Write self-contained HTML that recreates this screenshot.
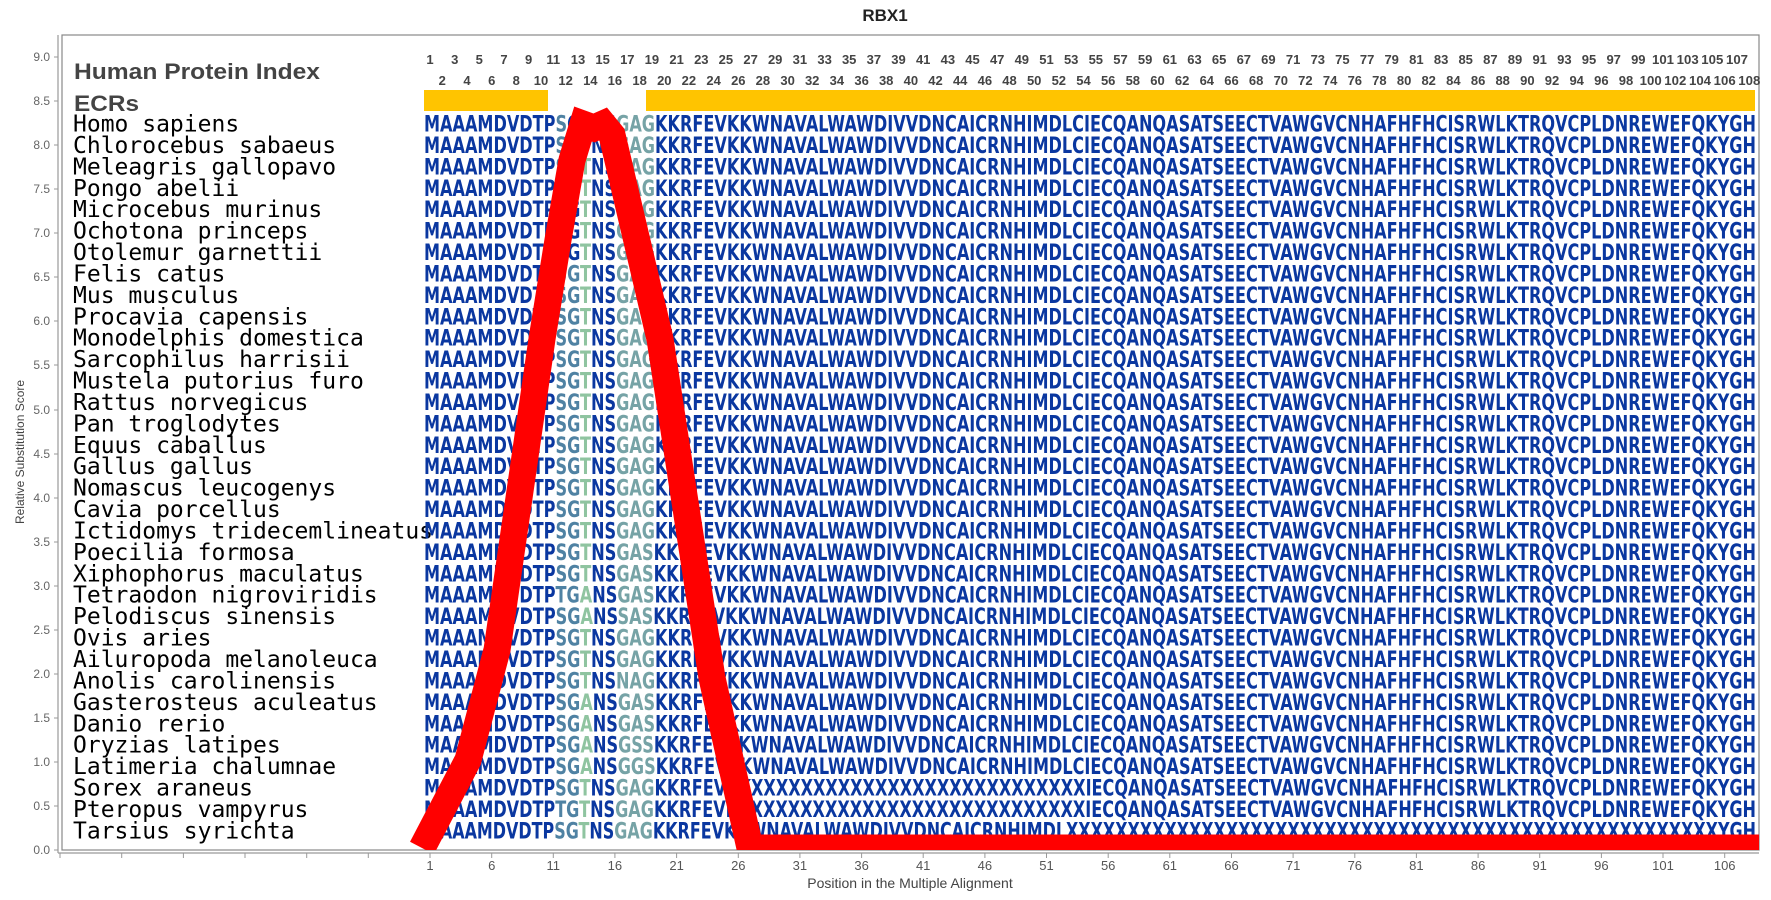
<!DOCTYPE html>
<html><head><meta charset="utf-8"><style>
html,body{margin:0;padding:0;background:#fff;}
svg{display:block;}
.yt{font:12px "Liberation Sans",sans-serif;fill:#666;text-anchor:end;}
.xt{font:13px "Liberation Sans",sans-serif;fill:#555;text-anchor:middle;}
.n{font:bold 13px "Liberation Sans",sans-serif;fill:#444;text-anchor:middle;}
.nm{font:23px "DejaVu Sans Mono",monospace;fill:#000;}
.s{font:bold 22px "DejaVu Sans",sans-serif;fill:#0a37a0;}
.a{fill:#4f82a3}.b{fill:#8fc4a0}.c{fill:#76a3a6}
</style></head><body>
<svg width="1771" height="900" viewBox="0 0 1771 900" xmlns="http://www.w3.org/2000/svg">
<defs><clipPath id="pc"><rect x="62" y="35" width="1697" height="815"/></clipPath></defs>
<text x="885" y="21" style="font:bold 17px 'Liberation Sans',sans-serif;fill:#222" text-anchor="middle">RBX1</text>
<rect x="62" y="35" width="1697" height="815" fill="#fff" stroke="#888" stroke-width="1.2"/>
<line x1="58" y1="35" x2="58" y2="853" stroke="#999" stroke-width="1.2"/>
<line x1="58" y1="853" x2="1759" y2="853" stroke="#999" stroke-width="1.2"/>
<g stroke="#999">
<line x1="54" y1="57" x2="58" y2="57"/><line x1="54" y1="101" x2="58" y2="101"/><line x1="54" y1="145" x2="58" y2="145"/><line x1="54" y1="189" x2="58" y2="189"/><line x1="54" y1="233" x2="58" y2="233"/><line x1="54" y1="277" x2="58" y2="277"/><line x1="54" y1="321" x2="58" y2="321"/><line x1="54" y1="365" x2="58" y2="365"/><line x1="54" y1="410" x2="58" y2="410"/><line x1="54" y1="454" x2="58" y2="454"/><line x1="54" y1="498" x2="58" y2="498"/><line x1="54" y1="542" x2="58" y2="542"/><line x1="54" y1="586" x2="58" y2="586"/><line x1="54" y1="630" x2="58" y2="630"/><line x1="54" y1="674" x2="58" y2="674"/><line x1="54" y1="718" x2="58" y2="718"/><line x1="54" y1="762" x2="58" y2="762"/><line x1="54" y1="806" x2="58" y2="806"/><line x1="54" y1="850" x2="58" y2="850"/>
</g>
<g class="yt">
<text x="50" y="61">9.0</text><text x="50" y="105">8.5</text><text x="50" y="149">8.0</text><text x="50" y="193">7.5</text><text x="50" y="237">7.0</text><text x="50" y="281">6.5</text><text x="50" y="325">6.0</text><text x="50" y="369">5.5</text><text x="50" y="414">5.0</text><text x="50" y="458">4.5</text><text x="50" y="502">4.0</text><text x="50" y="546">3.5</text><text x="50" y="590">3.0</text><text x="50" y="634">2.5</text><text x="50" y="678">2.0</text><text x="50" y="722">1.5</text><text x="50" y="766">1.0</text><text x="50" y="810">0.5</text><text x="50" y="854">0.0</text>
</g>
<text transform="translate(24,452) rotate(-90)" style="font:12px 'Liberation Sans',sans-serif;fill:#444" text-anchor="middle">Relative Substitution Score</text>
<g stroke="#999">
<line x1="60" y1="853" x2="60" y2="858"/><line x1="121.7" y1="853" x2="121.7" y2="858"/><line x1="183.4" y1="853" x2="183.4" y2="858"/><line x1="245" y1="853" x2="245" y2="858"/><line x1="306.7" y1="853" x2="306.7" y2="858"/><line x1="368.3" y1="853" x2="368.3" y2="858"/>
<line x1="430" y1="853" x2="430" y2="858"/><line x1="491.7" y1="853" x2="491.7" y2="858"/><line x1="553.3" y1="853" x2="553.3" y2="858"/><line x1="614.9" y1="853" x2="614.9" y2="858"/><line x1="676.6" y1="853" x2="676.6" y2="858"/><line x1="738.3" y1="853" x2="738.3" y2="858"/><line x1="799.9" y1="853" x2="799.9" y2="858"/><line x1="861.6" y1="853" x2="861.6" y2="858"/><line x1="923.2" y1="853" x2="923.2" y2="858"/><line x1="984.9" y1="853" x2="984.9" y2="858"/><line x1="1046.5" y1="853" x2="1046.5" y2="858"/><line x1="1108.2" y1="853" x2="1108.2" y2="858"/><line x1="1169.8" y1="853" x2="1169.8" y2="858"/><line x1="1231.5" y1="853" x2="1231.5" y2="858"/><line x1="1293.1" y1="853" x2="1293.1" y2="858"/><line x1="1354.8" y1="853" x2="1354.8" y2="858"/><line x1="1416.4" y1="853" x2="1416.4" y2="858"/><line x1="1478.1" y1="853" x2="1478.1" y2="858"/><line x1="1539.7" y1="853" x2="1539.7" y2="858"/><line x1="1601.4" y1="853" x2="1601.4" y2="858"/><line x1="1663" y1="853" x2="1663" y2="858"/><line x1="1724.7" y1="853" x2="1724.7" y2="858"/>
</g>
<g class="xt">
<text x="430" y="870">1</text><text x="491.7" y="870">6</text><text x="553.3" y="870">11</text><text x="614.9" y="870">16</text><text x="676.6" y="870">21</text><text x="738.3" y="870">26</text><text x="799.9" y="870">31</text><text x="861.6" y="870">36</text><text x="923.2" y="870">41</text><text x="984.9" y="870">46</text><text x="1046.5" y="870">51</text><text x="1108.2" y="870">56</text><text x="1169.8" y="870">61</text><text x="1231.5" y="870">66</text><text x="1293.1" y="870">71</text><text x="1354.8" y="870">76</text><text x="1416.4" y="870">81</text><text x="1478.1" y="870">86</text><text x="1539.7" y="870">91</text><text x="1601.4" y="870">96</text><text x="1663" y="870">101</text><text x="1724.7" y="870">106</text>
</g>
<text x="910" y="888" style="font:14px 'Liberation Sans',sans-serif;fill:#444" text-anchor="middle">Position in the Multiple Alignment</text>

<text x="74" y="79" textLength="246" lengthAdjust="spacingAndGlyphs" style="font:bold 22px 'Liberation Sans',sans-serif;fill:#444">Human Protein Index</text>
<text x="74" y="111" textLength="65" lengthAdjust="spacingAndGlyphs" style="font:bold 22px 'Liberation Sans',sans-serif;fill:#444">ECRs</text>

<g class="n">
<text x="430" y="64">1</text><text x="454.7" y="64">3</text><text x="479.3" y="64">5</text><text x="504" y="64">7</text><text x="528.6" y="64">9</text><text x="553.3" y="64">11</text><text x="578" y="64">13</text><text x="602.6" y="64">15</text><text x="627.3" y="64">17</text><text x="651.9" y="64">19</text><text x="676.6" y="64">21</text><text x="701.3" y="64">23</text><text x="725.9" y="64">25</text><text x="750.6" y="64">27</text><text x="775.2" y="64">29</text><text x="799.9" y="64">31</text><text x="824.6" y="64">33</text><text x="849.2" y="64">35</text><text x="873.9" y="64">37</text><text x="898.5" y="64">39</text><text x="923.2" y="64">41</text><text x="947.9" y="64">43</text><text x="972.5" y="64">45</text><text x="997.2" y="64">47</text><text x="1021.8" y="64">49</text><text x="1046.5" y="64">51</text><text x="1071.2" y="64">53</text><text x="1095.8" y="64">55</text><text x="1120.5" y="64">57</text><text x="1145.1" y="64">59</text><text x="1169.8" y="64">61</text><text x="1194.5" y="64">63</text><text x="1219.1" y="64">65</text><text x="1243.8" y="64">67</text><text x="1268.4" y="64">69</text><text x="1293.1" y="64">71</text><text x="1317.8" y="64">73</text><text x="1342.4" y="64">75</text><text x="1367.1" y="64">77</text><text x="1391.7" y="64">79</text><text x="1416.4" y="64">81</text><text x="1441.1" y="64">83</text><text x="1465.7" y="64">85</text><text x="1490.4" y="64">87</text><text x="1515" y="64">89</text><text x="1539.7" y="64">91</text><text x="1564.4" y="64">93</text><text x="1589" y="64">95</text><text x="1613.7" y="64">97</text><text x="1638.3" y="64">99</text><text x="1663" y="64" textLength="22" lengthAdjust="spacingAndGlyphs">101</text><text x="1687.7" y="64" textLength="22" lengthAdjust="spacingAndGlyphs">103</text><text x="1712.3" y="64" textLength="22" lengthAdjust="spacingAndGlyphs">105</text><text x="1737" y="64" textLength="22" lengthAdjust="spacingAndGlyphs">107</text>
<text x="442.3" y="85">2</text><text x="467" y="85">4</text><text x="491.7" y="85">6</text><text x="516.3" y="85">8</text><text x="541" y="85">10</text><text x="565.6" y="85">12</text><text x="590.3" y="85">14</text><text x="614.9" y="85">16</text><text x="639.6" y="85">18</text><text x="664.3" y="85">20</text><text x="688.9" y="85">22</text><text x="713.6" y="85">24</text><text x="738.3" y="85">26</text><text x="762.9" y="85">28</text><text x="787.6" y="85">30</text><text x="812.2" y="85">32</text><text x="836.9" y="85">34</text><text x="861.6" y="85">36</text><text x="886.2" y="85">38</text><text x="910.9" y="85">40</text><text x="935.5" y="85">42</text><text x="960.2" y="85">44</text><text x="984.9" y="85">46</text><text x="1009.5" y="85">48</text><text x="1034.2" y="85">50</text><text x="1058.8" y="85">52</text><text x="1083.5" y="85">54</text><text x="1108.2" y="85">56</text><text x="1132.8" y="85">58</text><text x="1157.5" y="85">60</text><text x="1182.1" y="85">62</text><text x="1206.8" y="85">64</text><text x="1231.5" y="85">66</text><text x="1256.1" y="85">68</text><text x="1280.8" y="85">70</text><text x="1305.4" y="85">72</text><text x="1330.1" y="85">74</text><text x="1354.8" y="85">76</text><text x="1379.4" y="85">78</text><text x="1404.1" y="85">80</text><text x="1428.7" y="85">82</text><text x="1453.4" y="85">84</text><text x="1478.1" y="85">86</text><text x="1502.7" y="85">88</text><text x="1527.4" y="85">90</text><text x="1552" y="85">92</text><text x="1576.7" y="85">94</text><text x="1601.4" y="85">96</text><text x="1626" y="85">98</text><text x="1650.7" y="85" textLength="22" lengthAdjust="spacingAndGlyphs">100</text><text x="1675.3" y="85" textLength="22" lengthAdjust="spacingAndGlyphs">102</text><text x="1700" y="85" textLength="22" lengthAdjust="spacingAndGlyphs">104</text><text x="1724.7" y="85" textLength="22" lengthAdjust="spacingAndGlyphs">106</text><text x="1749.3" y="85" textLength="22" lengthAdjust="spacingAndGlyphs">108</text>
</g>

<rect x="424" y="90" width="124" height="21" fill="#ffc400"/>
<rect x="646" y="90" width="1109" height="21" fill="#ffc400"/>

<g class="nm">
<text x="73" y="131.5">Homo sapiens</text>
<text x="73" y="152.9">Chlorocebus sabaeus</text>
<text x="73" y="174.3">Meleagris gallopavo</text>
<text x="73" y="195.8">Pongo abelii</text>
<text x="73" y="217.2">Microcebus murinus</text>
<text x="73" y="238.6">Ochotona princeps</text>
<text x="73" y="260">Otolemur garnettii</text>
<text x="73" y="281.4">Felis catus</text>
<text x="73" y="302.9">Mus musculus</text>
<text x="73" y="324.3">Procavia capensis</text>
<text x="73" y="345.7">Monodelphis domestica</text>
<text x="73" y="367.1">Sarcophilus harrisii</text>
<text x="73" y="388.5">Mustela putorius furo</text>
<text x="73" y="410">Rattus norvegicus</text>
<text x="73" y="431.4">Pan troglodytes</text>
<text x="73" y="452.8">Equus caballus</text>
<text x="73" y="474.2">Gallus gallus</text>
<text x="73" y="495.6">Nomascus leucogenys</text>
<text x="73" y="517.1">Cavia porcellus</text>
<text x="73" y="538.5">Ictidomys tridecemlineatus</text>
<text x="73" y="559.9">Poecilia formosa</text>
<text x="73" y="581.3">Xiphophorus maculatus</text>
<text x="73" y="602.7">Tetraodon nigroviridis</text>
<text x="73" y="624.2">Pelodiscus sinensis</text>
<text x="73" y="645.6">Ovis aries</text>
<text x="73" y="667">Ailuropoda melanoleuca</text>
<text x="73" y="688.4">Anolis carolinensis</text>
<text x="73" y="709.8">Gasterosteus aculeatus</text>
<text x="73" y="731.3">Danio rerio</text>
<text x="73" y="752.7">Oryzias latipes</text>
<text x="73" y="774.1">Latimeria chalumnae</text>
<text x="73" y="795.5">Sorex araneus</text>
<text x="73" y="816.9">Pteropus vampyrus</text>
<text x="73" y="838.4">Tarsius syrichta</text>
</g>

<g class="s">
<text x="424" y="131.5" textLength="1332" lengthAdjust="spacingAndGlyphs">MAAAMDVDTP<tspan class="a">S</tspan>G<tspan class="b">T</tspan>NS<tspan class="c">GAG</tspan>KKRFEVKKWNAVALWAWDIVVDNCAICRNHIMDLCIECQANQASATSEECTVAWGVCNHAFHFHCISRWLKTRQVCPLDNREWEFQKYGH</text>
<text x="424" y="152.9" textLength="1332" lengthAdjust="spacingAndGlyphs">MAAAMDVDTP<tspan class="a">S</tspan>G<tspan class="b">T</tspan>NS<tspan class="c">GAG</tspan>KKRFEVKKWNAVALWAWDIVVDNCAICRNHIMDLCIECQANQASATSEECTVAWGVCNHAFHFHCISRWLKTRQVCPLDNREWEFQKYGH</text>
<text x="424" y="174.3" textLength="1332" lengthAdjust="spacingAndGlyphs">MAAAMDVDTP<tspan class="a">S</tspan>G<tspan class="b">T</tspan>NS<tspan class="c">GAG</tspan>KKRFEVKKWNAVALWAWDIVVDNCAICRNHIMDLCIECQANQASATSEECTVAWGVCNHAFHFHCISRWLKTRQVCPLDNREWEFQKYGH</text>
<text x="424" y="195.8" textLength="1332" lengthAdjust="spacingAndGlyphs">MAAAMDVDTP<tspan class="a">S</tspan>G<tspan class="b">T</tspan>NS<tspan class="c">GAG</tspan>KKRFEVKKWNAVALWAWDIVVDNCAICRNHIMDLCIECQANQASATSEECTVAWGVCNHAFHFHCISRWLKTRQVCPLDNREWEFQKYGH</text>
<text x="424" y="217.2" textLength="1332" lengthAdjust="spacingAndGlyphs">MAAAMDVDTP<tspan class="a">S</tspan>G<tspan class="b">T</tspan>NS<tspan class="c">GAG</tspan>KKRFEVKKWNAVALWAWDIVVDNCAICRNHIMDLCIECQANQASATSEECTVAWGVCNHAFHFHCISRWLKTRQVCPLDNREWEFQKYGH</text>
<text x="424" y="238.6" textLength="1332" lengthAdjust="spacingAndGlyphs">MAAAMDVDTP<tspan class="a">S</tspan>G<tspan class="b">T</tspan>NS<tspan class="c">GAG</tspan>KKRFEVKKWNAVALWAWDIVVDNCAICRNHIMDLCIECQANQASATSEECTVAWGVCNHAFHFHCISRWLKTRQVCPLDNREWEFQKYGH</text>
<text x="424" y="260" textLength="1332" lengthAdjust="spacingAndGlyphs">MAAAMDVDTP<tspan class="a">S</tspan>G<tspan class="b">T</tspan>NS<tspan class="c">GAG</tspan>KKRFEVKKWNAVALWAWDIVVDNCAICRNHIMDLCIECQANQASATSEECTVAWGVCNHAFHFHCISRWLKTRQVCPLDNREWEFQKYGH</text>
<text x="424" y="281.4" textLength="1332" lengthAdjust="spacingAndGlyphs">MAAAMDVDTP<tspan class="a">SG</tspan><tspan class="b">T</tspan>NS<tspan class="c">GAG</tspan>KKRFEVKKWNAVALWAWDIVVDNCAICRNHIMDLCIECQANQASATSEECTVAWGVCNHAFHFHCISRWLKTRQVCPLDNREWEFQKYGH</text>
<text x="424" y="302.9" textLength="1332" lengthAdjust="spacingAndGlyphs">MAAAMDVDTP<tspan class="a">SG</tspan><tspan class="b">T</tspan>NS<tspan class="c">GAG</tspan>KKRFEVKKWNAVALWAWDIVVDNCAICRNHIMDLCIECQANQASATSEECTVAWGVCNHAFHFHCISRWLKTRQVCPLDNREWEFQKYGH</text>
<text x="424" y="324.3" textLength="1332" lengthAdjust="spacingAndGlyphs">MAAAMDVDTP<tspan class="a">SG</tspan><tspan class="b">T</tspan>NS<tspan class="c">GAG</tspan>KKRFEVKKWNAVALWAWDIVVDNCAICRNHIMDLCIECQANQASATSEECTVAWGVCNHAFHFHCISRWLKTRQVCPLDNREWEFQKYGH</text>
<text x="424" y="345.7" textLength="1332" lengthAdjust="spacingAndGlyphs">MAAAMDVDTP<tspan class="a">SG</tspan><tspan class="b">T</tspan>NS<tspan class="c">GAG</tspan>KKRFEVKKWNAVALWAWDIVVDNCAICRNHIMDLCIECQANQASATSEECTVAWGVCNHAFHFHCISRWLKTRQVCPLDNREWEFQKYGH</text>
<text x="424" y="367.1" textLength="1332" lengthAdjust="spacingAndGlyphs">MAAAMDVDTP<tspan class="a">SG</tspan><tspan class="b">T</tspan>NS<tspan class="c">GAG</tspan>KKRFEVKKWNAVALWAWDIVVDNCAICRNHIMDLCIECQANQASATSEECTVAWGVCNHAFHFHCISRWLKTRQVCPLDNREWEFQKYGH</text>
<text x="424" y="388.5" textLength="1332" lengthAdjust="spacingAndGlyphs">MAAAMDVDTP<tspan class="a">SG</tspan><tspan class="b">T</tspan>NS<tspan class="c">GAG</tspan>KKRFEVKKWNAVALWAWDIVVDNCAICRNHIMDLCIECQANQASATSEECTVAWGVCNHAFHFHCISRWLKTRQVCPLDNREWEFQKYGH</text>
<text x="424" y="410" textLength="1332" lengthAdjust="spacingAndGlyphs">MAAAMDVDTP<tspan class="a">SG</tspan><tspan class="b">T</tspan>NS<tspan class="c">GAG</tspan>KKRFEVKKWNAVALWAWDIVVDNCAICRNHIMDLCIECQANQASATSEECTVAWGVCNHAFHFHCISRWLKTRQVCPLDNREWEFQKYGH</text>
<text x="424" y="431.4" textLength="1332" lengthAdjust="spacingAndGlyphs">MAAAMDVDTP<tspan class="a">SG</tspan><tspan class="b">T</tspan>NS<tspan class="c">GAG</tspan>KKRFEVKKWNAVALWAWDIVVDNCAICRNHIMDLCIECQANQASATSEECTVAWGVCNHAFHFHCISRWLKTRQVCPLDNREWEFQKYGH</text>
<text x="424" y="452.8" textLength="1332" lengthAdjust="spacingAndGlyphs">MAAAMDVDTP<tspan class="a">SG</tspan><tspan class="b">T</tspan>NS<tspan class="c">GAG</tspan>KKRFEVKKWNAVALWAWDIVVDNCAICRNHIMDLCIECQANQASATSEECTVAWGVCNHAFHFHCISRWLKTRQVCPLDNREWEFQKYGH</text>
<text x="424" y="474.2" textLength="1332" lengthAdjust="spacingAndGlyphs">MAAAMDVDTP<tspan class="a">SG</tspan><tspan class="b">T</tspan>NS<tspan class="c">GAG</tspan>KKRFEVKKWNAVALWAWDIVVDNCAICRNHIMDLCIECQANQASATSEECTVAWGVCNHAFHFHCISRWLKTRQVCPLDNREWEFQKYGH</text>
<text x="424" y="495.6" textLength="1332" lengthAdjust="spacingAndGlyphs">MAAAMDVDTP<tspan class="a">SG</tspan><tspan class="b">T</tspan>NS<tspan class="c">GAG</tspan>KKRFEVKKWNAVALWAWDIVVDNCAICRNHIMDLCIECQANQASATSEECTVAWGVCNHAFHFHCISRWLKTRQVCPLDNREWEFQKYGH</text>
<text x="424" y="517.1" textLength="1332" lengthAdjust="spacingAndGlyphs">MAAAMDVDTP<tspan class="a">SG</tspan><tspan class="b">T</tspan>NS<tspan class="c">GAG</tspan>KKRFEVKKWNAVALWAWDIVVDNCAICRNHIMDLCIECQANQASATSEECTVAWGVCNHAFHFHCISRWLKTRQVCPLDNREWEFQKYGH</text>
<text x="424" y="538.5" textLength="1332" lengthAdjust="spacingAndGlyphs">MAAAMDVDTP<tspan class="a">SG</tspan><tspan class="b">T</tspan>NS<tspan class="c">GAG</tspan>KKRFEVKKWNAVALWAWDIVVDNCAICRNHIMDLCIECQANQASATSEECTVAWGVCNHAFHFHCISRWLKTRQVCPLDNREWEFQKYGH</text>
<text x="424" y="559.9" textLength="1332" lengthAdjust="spacingAndGlyphs">MAAAMDVDTP<tspan class="a">SG</tspan><tspan class="b">T</tspan>NS<tspan class="c">GAS</tspan>KKRFEVKKWNAVALWAWDIVVDNCAICRNHIMDLCIECQANQASATSEECTVAWGVCNHAFHFHCISRWLKTRQVCPLDNREWEFQKYGH</text>
<text x="424" y="581.3" textLength="1332" lengthAdjust="spacingAndGlyphs">MAAAMDVDTP<tspan class="a">SG</tspan><tspan class="b">T</tspan>NS<tspan class="c">GAS</tspan>KKRFEVKKWNAVALWAWDIVVDNCAICRNHIMDLCIECQANQASATSEECTVAWGVCNHAFHFHCISRWLKTRQVCPLDNREWEFQKYGH</text>
<text x="424" y="602.7" textLength="1332" lengthAdjust="spacingAndGlyphs">MAAAMDVDTP<tspan class="a">TG</tspan><tspan class="b">A</tspan>NS<tspan class="c">GAS</tspan>KKRFEVKKWNAVALWAWDIVVDNCAICRNHIMDLCIECQANQASATSEECTVAWGVCNHAFHFHCISRWLKTRQVCPLDNREWEFQKYGH</text>
<text x="424" y="624.2" textLength="1332" lengthAdjust="spacingAndGlyphs">MAAAMDVDTP<tspan class="a">SG</tspan><tspan class="b">A</tspan>NS<tspan class="c">SAS</tspan>KKRFEVKKWNAVALWAWDIVVDNCAICRNHIMDLCIECQANQASATSEECTVAWGVCNHAFHFHCISRWLKTRQVCPLDNREWEFQKYGH</text>
<text x="424" y="645.6" textLength="1332" lengthAdjust="spacingAndGlyphs">MAAAMDVDTP<tspan class="a">SG</tspan><tspan class="b">T</tspan>NS<tspan class="c">GAG</tspan>KKRFEVKKWNAVALWAWDIVVDNCAICRNHIMDLCIECQANQASATSEECTVAWGVCNHAFHFHCISRWLKTRQVCPLDNREWEFQKYGH</text>
<text x="424" y="667" textLength="1332" lengthAdjust="spacingAndGlyphs">MAAAMDVDTP<tspan class="a">SG</tspan><tspan class="b">T</tspan>NS<tspan class="c">GAG</tspan>KKRFEVKKWNAVALWAWDIVVDNCAICRNHIMDLCIECQANQASATSEECTVAWGVCNHAFHFHCISRWLKTRQVCPLDNREWEFQKYGH</text>
<text x="424" y="688.4" textLength="1332" lengthAdjust="spacingAndGlyphs">MAAAMDVDTP<tspan class="a">SG</tspan><tspan class="b">T</tspan>NS<tspan class="c">NAG</tspan>KKRFEVKKWNAVALWAWDIVVDNCAICRNHIMDLCIECQANQASATSEECTVAWGVCNHAFHFHCISRWLKTRQVCPLDNREWEFQKYGH</text>
<text x="424" y="709.8" textLength="1332" lengthAdjust="spacingAndGlyphs">MAAAMDVDTP<tspan class="a">SG</tspan><tspan class="b">A</tspan>NS<tspan class="c">GAS</tspan>KKRFEVKKWNAVALWAWDIVVDNCAICRNHIMDLCIECQANQASATSEECTVAWGVCNHAFHFHCISRWLKTRQVCPLDNREWEFQKYGH</text>
<text x="424" y="731.3" textLength="1332" lengthAdjust="spacingAndGlyphs">MAAAMDVDTP<tspan class="a">SG</tspan><tspan class="b">A</tspan>NS<tspan class="c">GAS</tspan>KKRFEVKKWNAVALWAWDIVVDNCAICRNHIMDLCIECQANQASATSEECTVAWGVCNHAFHFHCISRWLKTRQVCPLDNREWEFQKYGH</text>
<text x="424" y="752.7" textLength="1332" lengthAdjust="spacingAndGlyphs">MAAAMDVDTP<tspan class="a">SG</tspan><tspan class="b">A</tspan>NS<tspan class="c">GSS</tspan>KKRFEVKKWNAVALWAWDIVVDNCAICRNHIMDLCIECQANQASATSEECTVAWGVCNHAFHFHCISRWLKTRQVCPLDNREWEFQKYGH</text>
<text x="424" y="774.1" textLength="1332" lengthAdjust="spacingAndGlyphs">MAAAMDVDTP<tspan class="a">SG</tspan><tspan class="b">A</tspan>NS<tspan class="c">GGS</tspan>KKRFEVKKWNAVALWAWDIVVDNCAICRNHIMDLCIECQANQASATSEECTVAWGVCNHAFHFHCISRWLKTRQVCPLDNREWEFQKYGH</text>
<text x="424" y="795.5" textLength="1332" lengthAdjust="spacingAndGlyphs">MAAAMDVDTP<tspan class="a">SG</tspan><tspan class="b">T</tspan>NS<tspan class="c">GAG</tspan>KKRFEVKKXXXXXXXXXXXXXXXXXXXXXXXXXXXIECQANQASATSEECTVAWGVCNHAFHFHCISRWLKTRQVCPLDNREWEFQKYGH</text>
<text x="424" y="816.9" textLength="1332" lengthAdjust="spacingAndGlyphs">MAAAMDVDTP<tspan class="a">TG</tspan><tspan class="b">T</tspan>NS<tspan class="c">GAG</tspan>KKRFEVKKXXXXXXXXXXXXXXXXXXXXXXXXXXXIECQANQASATSEECTVAWGVCNHAFHFHCISRWLKTRQVCPLDNREWEFQKYGH</text>
<text x="424" y="838.4" textLength="1332" lengthAdjust="spacingAndGlyphs">MAAAMDVDTP<tspan class="a">SG</tspan><tspan class="b">T</tspan>NS<tspan class="c">GAG</tspan>KKRFEVKKWNAVALWAWDIVVDNCAICRNHIMDLXXXXXXXXXXXXXXXXXXXXXXXXXXXXXXXXXXXXXXXXXXXXXXXXXXXXXYGH</text>
</g>

<g clip-path="url(#pc)">
<polyline points="422,848 468,760 497,650 542,339 558,240 572,160 583,124 594,128 603,124 612,135 660,339 712,678 750,848 1770,848" fill="none" stroke="#ff0000" stroke-width="27" stroke-linejoin="miter" stroke-miterlimit="2"/>
</g>
</svg>
</body></html>
